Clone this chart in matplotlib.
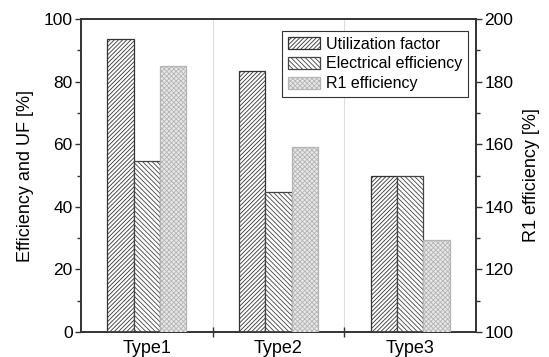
import matplotlib
matplotlib.use('Agg')
import matplotlib.pyplot as plt
import numpy as np
from matplotlib.ticker import MultipleLocator, FixedLocator

plt.rcParams['font.family'] = ['Liberation Sans', 'DejaVu Sans']
plt.rcParams['hatch.linewidth'] = 0.6

# Данные
types = ['Type1', 'Type2', 'Type3']
utilization = [93.5, 83.3, 49.8]
electrical = [54.7, 44.8, 49.8]
r1_eff = [185.0, 159.0, 129.4]

fig = plt.figure(figsize=(5.49, 3.57), dpi=100)
ax = fig.add_axes([81 / 549, 1 - 332 / 357, 395 / 549, 313 / 357])
ax2 = ax.twinx()

x = np.arange(len(types))
w = 0.2
dark = '#333333'

ax.bar(x - w, utilization, w, facecolor='white', edgecolor=dark,
       hatch='////////', linewidth=0.9, label='Utilization factor', zorder=3)
ax.bar(x, electrical, w, facecolor='white', edgecolor='#444444',
       hatch='\\\\\\\\\\\\\\', linewidth=0.9, label='Electrical efficiency', zorder=3)
ax2.bar(x + w, r1_eff, w, facecolor='#e8e8e8', edgecolor='#b4b4b4',
        hatch='xxxxxxx', linewidth=0.9, label='R1 efficiency', zorder=3)

# Разделители между группами
for b in [0.5, 1.5]:
    ax.axvline(b, color='#dddddd', linewidth=0.8, zorder=1)

ax.set_xlim(-0.5, 2.5)
ax.set_ylim(0, 100)
ax2.set_ylim(100, 200)

ax.xaxis.set_major_locator(FixedLocator([0.5, 1.5]))
ax.set_xticklabels([])
ax.xaxis.set_minor_locator(FixedLocator(x))
ax.set_xticklabels(types, minor=True)
ax.tick_params(axis='x', which='major', direction='inout', length=7, width=1, color=dark)
ax.tick_params(axis='x', which='minor', length=0, labelsize=13, pad=6)

ax.yaxis.set_major_locator(MultipleLocator(20))
ax.yaxis.set_minor_locator(MultipleLocator(10))
ax2.yaxis.set_major_locator(MultipleLocator(20))
ax2.yaxis.set_minor_locator(MultipleLocator(10))
for a in (ax, ax2):
    a.tick_params(axis='y', which='major', direction='out', length=4, width=1,
                  color=dark, labelsize=12.5, pad=2)
    a.tick_params(axis='y', which='minor', direction='out', length=3, width=1, color=dark)
    for s in a.spines.values():
        s.set_color(dark)
        s.set_linewidth(1.2)

ax.set_ylabel('Efficiency and UF [%]', fontsize=13, labelpad=7)
ax2.set_ylabel('R1 efficiency [%]', fontsize=13, labelpad=7)

h1, l1 = ax.get_legend_handles_labels()
h2, l2 = ax2.get_legend_handles_labels()
leg = ax2.legend(h1 + h2, l1 + l2, loc='upper right', fontsize=11.5,
                 fancybox=False, framealpha=1, edgecolor=dark,
                 borderpad=0.35, labelspacing=0.3, handlelength=2.0,
                 handleheight=0.8, handletextpad=0.4, borderaxespad=0,
                 bbox_to_anchor=(468 / 549, 1 - 31 / 357),
                 bbox_transform=fig.transFigure)
leg.get_frame().set_linewidth(0.8)

fig.savefig('out.png', dpi=100, facecolor='white')
